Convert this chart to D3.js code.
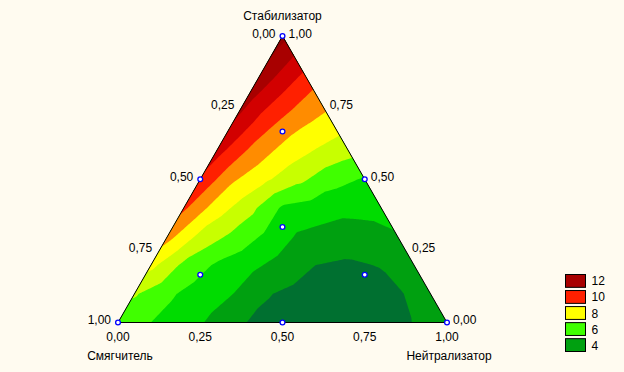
<!DOCTYPE html>
<html>
<head>
<meta charset="utf-8">
<script src="https://cdn.jsdelivr.net/npm/d3@7"></script>
<style>
body { margin: 0; background: #fffbf0; }
text { font-family: "Liberation Sans", Arial, sans-serif; font-size: 12px; fill: #000; }
</style>
</head>
<body>
<div id="chart"></div>
<script>
// response surface
// one row per Стабилизатор share (0, 0.1 ... 1), values along Нейтрализатор share (0, 0.1 ... 1 - stab)
var row00 = [6.4, 6.0, 5.4, 4.75, 3.92, 3.6, 3.45, 3.45, 3.6, 4.03, 4.5];
var row01 = [7.12, 6.2, 5.5, 5.0, 4.08, 3.7, 3.55, 3.55, 3.85, 4.65];
var row02 = [8.3, 6.75, 5.85, 5.26, 4.62, 4.0, 3.85, 4.05, 4.8];
var row03 = [9.4, 7.7, 6.75, 5.8, 4.85, 4.55, 4.6, 4.9];
var row04 = [10.2, 8.5, 7.33, 5.85, 5.55, 5.25, 5.34];
var row05 = [10.83, 9.15, 8.15, 7.25, 6.35, 5.91];
var row06 = [11.41, 9.85, 8.7, 7.95, 7.36];
var row07 = [12.0, 10.4, 9.26, 8.57];
var row08 = [12.4, 11.0, 9.77];
var row09 = [12.9, 11.43];
var row10 = [13.3];
var gridRows = [row00, row01, row02, row03, row04, row05, row06, row07, row08, row09, row10];
var gridStep = 0.1;

// experimental points: [Смягчитель, Нейтрализатор, Стабилизатор]
var designPoints = [
	[1, 0, 0], [0, 1, 0], [0, 0, 1],
	[0.5, 0.5, 0], [0.5, 0, 0.5], [0, 0.5, 0.5],
	[1/3, 1/3, 1/3],
	[2/3, 1/6, 1/6], [1/6, 2/3, 1/6], [1/6, 1/6, 2/3]
];

var tickValues = [0, 0.25, 0.5, 0.75, 1];
var levels = [4, 5, 6, 7, 8, 9, 10, 11, 12, 13];
var bandColors = ['#007030', '#00a010', '#00dc00', '#40ff00', '#c8ff00', '#ffff00',
	'#ff8c00', '#ff2000', '#d20000', '#a80000', '#940000'];
var legendValues = [12, 10, 8, 6, 4];

// corners of the triangle
var cornerSmyag = [118, 322.5],
	cornerNeutr = [447, 322.5],
	cornerStab = [282.5, 36];

var width = 624, height = 372;

var svg = d3.select('#chart')
	.append('svg')
	.attr('width', width)
	.attr('height', height);

function toScreen(s, n, t) {
	return [cornerSmyag[0] * s + cornerNeutr[0] * n + cornerStab[0] * t,
		cornerSmyag[1] * s + cornerNeutr[1] * n + cornerStab[1] * t];
}

// linear interpolation inside the triangular grid
function surface(n, t) {
	var sum = n + t;
	if (sum > 1) { n = n / sum; t = t / sum; }
	var u = n / gridStep, v = t / gridStep;
	var i = Math.floor(u), k = Math.floor(v);
	if (k >= 10) return gridRows[10][0];
	if (i + k >= 10) return gridRows[k][10 - k];
	var fu = u - i, fv = v - k;
	if (fu + fv <= 1 || i + k >= 9) {
		return gridRows[k][i] * (1 - fu - fv) + gridRows[k][i + 1] * fu + gridRows[k + 1][i] * fv;
	}
	return gridRows[k + 1][i + 1] * (fu + fv - 1) + gridRows[k][i + 1] * (1 - fv) + gridRows[k + 1][i] * (1 - fu);
}

var N = 241;
var values = new Array(N * N);
for (var j = 0; j < N; j++) {
	for (var i = 0; i < N; i++) {
		values[j * N + i] = surface(i / (N - 1), j / (N - 1));
	}
}

var color = d3.scaleThreshold().domain(levels).range(bandColors);
var gridToShare = d3.scaleLinear().domain([0.5, N - 0.5]).range([0, 1]);

var contours = d3.contours().size([N, N]).thresholds(levels)(values);

var path = d3.geoPath(d3.geoTransform({
	point: function(x, y) {
		var n = gridToShare(x), t = gridToShare(y);
		var p = toScreen(1 - n - t, n, t);
		this.stream.point(p[0], p[1]);
	}
}));

var triangle = [cornerSmyag, cornerNeutr, cornerStab];

svg.append('clipPath').attr('id', 'tri')
	.append('polygon')
	.attr('points', triangle.map(function(p) { return p.join(','); }).join(' '));

var plot = svg.append('g').attr('clip-path', 'url(#tri)');

plot.append('polygon')
	.attr('points', triangle.map(function(p) { return p.join(','); }).join(' '))
	.attr('fill', color(levels[0] - 1));

plot.selectAll('path.band')
	.data(contours)
	.join('path')
	.attr('class', 'band')
	.attr('d', path)
	.attr('fill', function(d) { return color(d.value); });

svg.append('polygon')
	.attr('points', triangle.map(function(p) { return p.join(','); }).join(' '))
	.attr('fill', 'none')
	.attr('stroke', '#000')
	.attr('stroke-width', 1);

// tick labels
var ru = d3.formatLocale({decimal: ',', thousands: ' ', grouping: [3], currency: ['', '']});
var fmt = ru.format('.2f');

// bottom: Нейтрализатор
svg.append('g').selectAll('text')
	.data(tickValues)
	.join('text')
	.attr('x', function(d) { return toScreen(1 - d, d, 0)[0]; })
	.attr('y', 341)
	.attr('text-anchor', 'middle')
	.text(fmt);

// left: Смягчитель
svg.append('g').selectAll('text')
	.data(tickValues)
	.join('text')
	.attr('x', function(d) { return toScreen(d, 0, 1 - d)[0] - 7; })
	.attr('y', function(d) { return toScreen(d, 0, 1 - d)[1] + 1.5; })
	.attr('text-anchor', 'end')
	.text(fmt);

// right: Стабилизатор
svg.append('g').selectAll('text')
	.data(tickValues)
	.join('text')
	.attr('x', function(d) { return toScreen(0, 1 - d, d)[0] + 6; })
	.attr('y', function(d) { return toScreen(0, 1 - d, d)[1] + 1.5; })
	.attr('text-anchor', 'start')
	.text(fmt);

svg.append('text').attr('x', 282.5).attr('y', 19.5).attr('text-anchor', 'middle').text('Стабилизатор');
svg.append('text').attr('x', 120).attr('y', 360).attr('text-anchor', 'middle').text('Смягчитель');
svg.append('text').attr('x', 449).attr('y', 360).attr('text-anchor', 'middle').text('Нейтрализатор');

// design points
svg.append('g').selectAll('circle')
	.data(designPoints)
	.join('circle')
	.attr('cx', function(d) { return toScreen(d[0], d[1], d[2])[0]; })
	.attr('cy', function(d) { return toScreen(d[0], d[1], d[2])[1]; })
	.attr('r', 2.4)
	.attr('fill', '#fff')
	.attr('stroke', '#0000ff')
	.attr('stroke-width', 1.3);

// legend
var legendY = d3.scaleBand().domain(legendValues).range([274, 351]).paddingInner(0.2);

var legend = svg.append('g');
legend.selectAll('rect')
	.data(legendValues)
	.join('rect')
	.attr('x', 565.5)
	.attr('y', function(d) { return legendY(d) + 0.5; })
	.attr('width', 20)
	.attr('height', legendY.bandwidth())
	.attr('fill', function(d) { return color(d); })
	.attr('stroke', '#000')
	.attr('stroke-width', 1);

legend.selectAll('text')
	.data(legendValues)
	.join('text')
	.attr('x', 591.5)
	.attr('y', function(d) { return legendY(d) + legendY.bandwidth() / 2 + 5; })
	.text(function(d) { return d; });
</script>
</body>
</html>
